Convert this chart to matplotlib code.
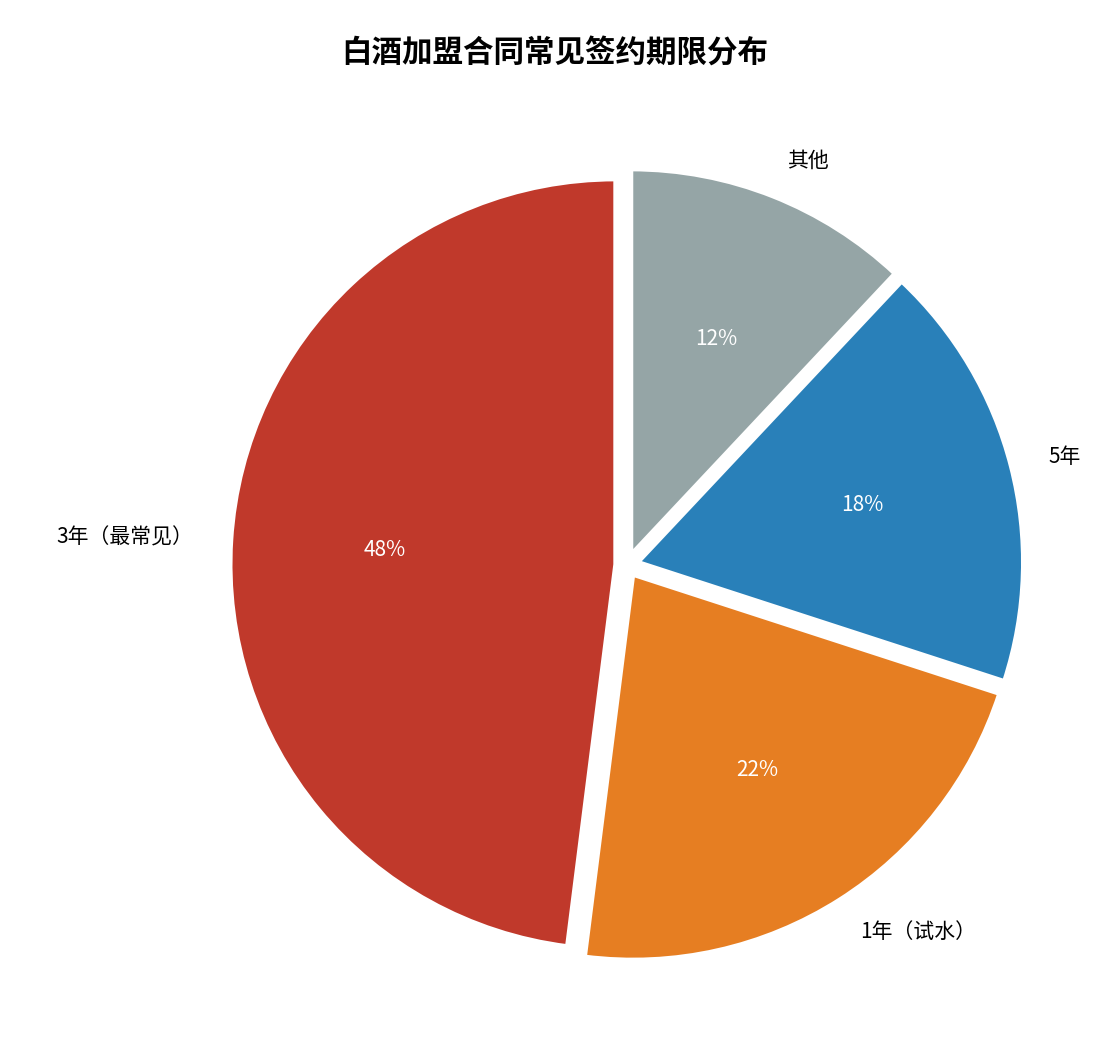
import matplotlib.pyplot as plt

plt.rcParams['font.family'] = ['Noto Sans CJK SC', 'DejaVu Sans']

labels = ['3年（最常见）', '1年（试水）', '5年', '其他']
shares = [48, 22, 18, 12]
colors = ['#c0392b', '#e67e22', '#2980b9', '#95a5a6']
explode = [0.03, 0.03, 0.03, 0.03]

fig = plt.figure(figsize=(11.1, 10.5), dpi=100)
ax = fig.add_axes([0.1486, 0.0219, 0.8324, 0.88])
wedges, texts, autotexts = ax.pie(
    shares, labels=labels, colors=colors, explode=explode,
    startangle=90, autopct='%1.0f%%', pctdistance=0.6, labeldistance=1.1,
    wedgeprops={'edgecolor': 'white', 'linewidth': 3},
    textprops={'fontsize': 15})
for t in autotexts:
    t.set_color('white')
    t.set_fontsize(15)
ax.set_xlim(-1.2, 1.2)
ax.set_ylim(-1.2, 1.2)
ax.set_aspect('equal')
fig.suptitle('白酒加盟合同常见签约期限分布', fontsize=22, fontweight='bold', y=0.965)
plt.savefig('out.png')
